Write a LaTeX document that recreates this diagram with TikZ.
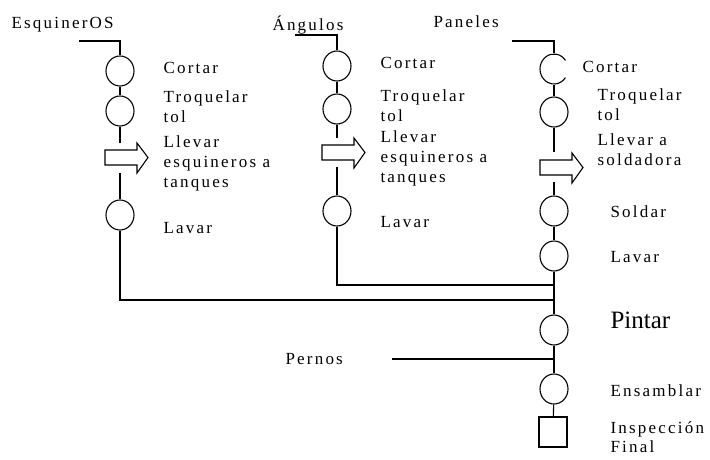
\documentclass[tikz,border=0pt]{standalone}
\usepackage{fontspec}
\setmainfont{Liberation Serif}
\newfontfamily\lblfont[LetterSpace=13]{Liberation Serif}
\usetikzlibrary{shapes.geometric}
\begin{document}
\begin{tikzpicture}[x=1pt,y=1pt,line width=1.1pt,
  op/.style={ellipse,draw,minimum width=28pt,minimum height=30pt,inner sep=0pt},
  opopen/.style={ellipse,minimum width=28pt,minimum height=30pt,inner sep=0pt},
  insp/.style={rectangle,draw,minimum width=28pt,minimum height=30pt,inner sep=0pt},
  lbl/.style={anchor=west,inner sep=0pt,align=left,font=\lblfont\fontsize{17}{20}\selectfont},
  biglbl/.style={anchor=west,inner sep=0pt,font=\fontsize{25}{28}\selectfont},
  pics/movearrow/.style={code={
    \draw (0,0) -- (32,0) -- (32,7) -- (43,-7.5) -- (32,-23) -- (32,-15) -- (0,-15) -- cycle;}}
]
\useasboundingbox (0,0) rectangle (710,-459);

% ---------- Esquineros ----------
\node[lbl] (tL) at (11,-25) {EsquinerOS};
\coordinate (Ls) at (79,-41);
\coordinate (Lc) at (120,-41);
\node[op] (L1) at (120,-71) {};
\node[op] (L2) at (120,-111) {};
\coordinate (L3t) at (120,-143);
\pic at (105,-150) {movearrow};
\coordinate (L3b) at (120,-173);
\node[op] (L4) at (120,-215) {};
\coordinate (Lbus) at (120,-300);
\node[lbl] at (163,-68) {Cortar};
\node[lbl] at (163,-107) {Troquelar\\tol};
\node[lbl] at (163,-163) {Llevar\\esquineros a\\tanques};
\node[lbl] at (163,-228) {Lavar};

% ---------- Angulos ----------
\node[lbl] (tM) at (272,-25) {Ángulos};
\coordinate (Ms) at (295,-35);
\coordinate (Mc) at (337,-35);
\node[op] (M1) at (337,-66) {};
\node[op] (M2) at (337,-109) {};
\coordinate (M3t) at (337,-138);
\pic at (322,-145) {movearrow};
\coordinate (M3b) at (337,-167);
\node[op] (M4) at (337,-211) {};
\coordinate (Mbus) at (337,-285);
\node[lbl] at (380,-63) {Cortar};
\node[lbl] at (380,-106) {Troquelar\\tol};
\node[lbl] at (380,-158) {Llevar\\esquineros a\\tanques};
\node[lbl] at (380,-222) {Lavar};

% ---------- Paneles ----------
\node[lbl] (tR) at (433,-22) {Paneles};
\coordinate (Rs) at (512,-41);
\coordinate (Rc) at (554,-41);
\node[opopen] (R1) at (554,-69) {};
\draw (R1.center) ++(35:14 and 15) arc[start angle=35,end angle=325,x radius=14,y radius=15];
\node[op] (R2) at (554,-112) {};
\coordinate (R3t) at (554,-152);
\pic at (540,-160) {movearrow};
\coordinate (R3b) at (554,-182);
\node[op] (R4) at (554,-211) {};
\node[op] (R5) at (554,-256) {};
\coordinate (Rb1) at (554,-285);
\coordinate (Rb2) at (554,-300);
\node[op] (P) at (554,-330) {};
\coordinate (Rp) at (554,-359);
\coordinate (Pern) at (392,-359);
\node[op] (E) at (554,-389) {};
\node[insp] (S) at (553,-432) {};
\node[lbl] at (582,-67) {Cortar};
\node[lbl] at (597,-105) {Troquelar\\tol};
\node[lbl] at (597,-150) {Llevar a\\soldadora};
\node[lbl] at (610,-212) {Soldar};
\node[lbl] at (610,-257) {Lavar};
\node[biglbl] at (610,-320) {Pintar};
\node[lbl] at (285,-359) {Pernos};
\node[lbl] at (610,-391) {Ensamblar};
\node[lbl,font=\lblfont\fontsize{17}{19}\selectfont] at (610,-437) {Inspección\\Final};

% ---------- connectors ----------
\draw (Ls) -- (Lc) -- (L1.north);
\draw (L1) -- (L2);
\draw (L2) -- (L3t);
\draw (L3b) -- (L4);
\draw (L4) -- (Lbus) -- (Rb2);
\draw (Ms) -- (Mc) -- (M1.north);
\draw (M1) -- (M2);
\draw (M2) -- (M3t);
\draw (M3b) -- (M4);
\draw (M4) -- (Mbus) -- (Rb1);
\draw (Rs) -- (Rc) -- (R1.north);
\draw (R1.south) -- (R2.north);
\draw (R2) -- (R3t);
\draw (R3b) -- (R4);
\draw (R4) -- (R5);
\draw (R5) -- (P);
\draw (P) -- (E);
\draw (Pern) -- (Rp);
\draw (E) -- (S);
\end{tikzpicture}
\end{document}
